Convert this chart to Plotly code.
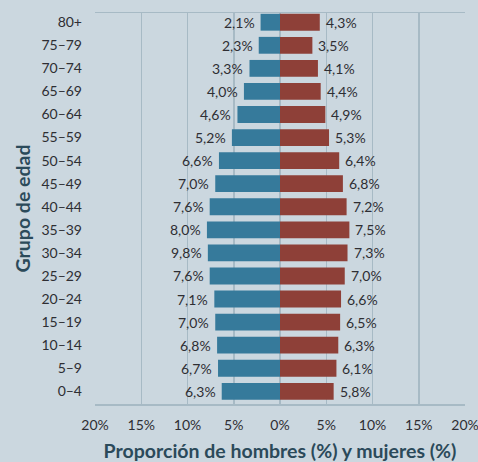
import plotly.graph_objects as go

age_groups = ["0–4", "5–9", "10–14", "15–19", "20–24", "25–29", "30–34", "35–39",
              "40–44", "45–49", "50–54", "55–59", "60–64", "65–69", "70–74", "75–79", "80+"]
men_values = [6.3, 6.7, 6.8, 7.0, 7.1, 7.6, 7.8, 7.9, 7.6, 7.0, 6.6, 5.2, 4.6, 3.9, 3.3, 2.3, 2.1]
women_values = [5.8, 6.1, 6.3, 6.5, 6.6, 7.0, 7.3, 7.5, 7.2, 6.8, 6.4, 5.3, 4.9, 4.4, 4.1, 3.5, 4.3]
men_labels = ["6,3%", "6,7%", "6,8%", "7,0%", "7,1%", "7,6%", "9,8%", "8,0%", "7,6%", "7,0%",
              "6,6%", "5,2%", "4,6%", "4,0%", "3,3%", "2,3%", "2,1%"]
women_labels = ["5,8%", "6,1%", "6,3%", "6,5%", "6,6%", "7,0%", "7,3%", "7,5%", "7,2%", "6,8%",
                "6,4%", "5,3%", "4,9%", "4,4%", "4,1%", "3,5%", "4,3%"]
x_tick_vals = [-20, -15, -10, -5, 0, 5, 10, 15, 20]
x_tick_text = ["20%", "15%", "10%", "5%", "0%", "5%", "10%", "15%", "20%"]

BG = "#cbd7df"
BLUE = "#367a9b"
RED = "#8e4038"
GRID = "#a7bac5"
TXT = "#2e2e33"
TITLE = "#2b4a5a"
FONT = "Lato, 'Open Sans', sans-serif"

fig = go.Figure()
fig.add_trace(go.Bar(y=age_groups, x=[-v for v in men_values], orientation="h",
                     marker=dict(color=BLUE, line=dict(width=0)), width=0.73,
                     name="Hombres", hoverinfo="skip"))
fig.add_trace(go.Bar(y=age_groups, x=women_values, orientation="h",
                     marker=dict(color=RED, line=dict(width=0)), width=0.73,
                     name="Mujeres", hoverinfo="skip"))

for g, v, t in zip(age_groups, men_values, men_labels):
    fig.add_annotation(x=-v, y=g, text=t, showarrow=False, xanchor="right",
                       xshift=-4, font=dict(family=FONT, size=14, color=TXT))
for g, v, t in zip(age_groups, women_values, women_labels):
    fig.add_annotation(x=v, y=g, text=t, showarrow=False, xanchor="left",
                       xshift=4, font=dict(family=FONT, size=14, color=TXT))

fig.update_layout(
    width=478, height=462,
    paper_bgcolor=BG, plot_bgcolor=BG,
    barmode="overlay", showlegend=False,
    margin=dict(l=95, r=13, t=13, b=58, autoexpand=False),
    font=dict(family=FONT, size=14, color=TXT),
    xaxis=dict(range=[-20, 20], tickvals=x_tick_vals, ticktext=x_tick_text,
               showgrid=True, gridcolor=GRID, gridwidth=1.5,
               zeroline=True, zerolinecolor=GRID, zerolinewidth=1.5,
               showline=True, linecolor=GRID, linewidth=1.5, mirror=True,
               ticks="", ticklabelstandoff=8, fixedrange=True, automargin=False,
               ticklabeloverflow="allow",
               tickfont=dict(family=FONT, size=14, color=TXT),
               title=dict(text="<b>Proporción de hombres (%) y mujeres (%)</b>",
                          font=dict(family=FONT, size=19.5, color=TITLE), standoff=12)),
    yaxis=dict(type="category", categoryorder="array", categoryarray=age_groups,
               range=[-0.55, 16.4], showgrid=False, zeroline=False,
               showline=False, ticks="", ticklabelstandoff=12, fixedrange=True,
               automargin=False, ticklabeloverflow="allow",
               tickfont=dict(family=FONT, size=14, color=TXT),
               title=dict(text="<b>Grupo de edad</b>",
                          font=dict(family=FONT, size=19.5, color=TITLE), standoff=5)),
)

fig.write_html("out.html", config={"displayModeBar": False, "staticPlot": True},
               post_script="document.body.style.margin='0';document.body.style.background='%s';" % BG)
